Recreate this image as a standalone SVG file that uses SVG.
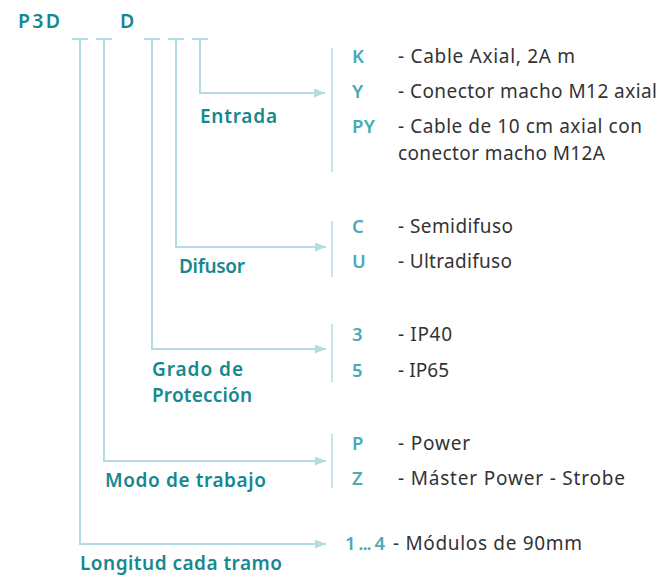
<svg xmlns="http://www.w3.org/2000/svg" width="663" height="578" viewBox="0 0 663 578">
<style>
.ln{fill:none;stroke:#b4dce3;stroke-width:2}
.bar{fill:none;stroke:#b4dce3;stroke-width:1.5}
.lbl{font-family:"Noto Sans","Open Sans",sans-serif;font-weight:600;font-size:19px;fill:#16888f}
.code{font-family:"Noto Sans","Open Sans",sans-serif;font-weight:600;font-size:18.5px;fill:#4aaab6}
.txt{font-family:"Noto Sans","Open Sans",sans-serif;font-size:19px;fill:#333333}
.hd{font-family:"Noto Sans","Open Sans",sans-serif;font-weight:600;font-size:19.5px;fill:#16888f}
</style>
<defs>
<marker id="ah" markerWidth="11" markerHeight="9" refX="11" refY="4.5" orient="auto" markerUnits="userSpaceOnUse">
<path d="M0,0 L11,4.5 L0,9 Z" fill="#b4dce3"/>
</marker>
</defs>
<g id="header">
<text class="hd" x="18" y="28" textLength="42">P3D</text>
<text class="hd" x="120" y="28">D</text>
</g>
<g id="connectors">
<path class="ln" d="M72,39 H88 M96,39 H112 M144,39 H160 M168,39 H184 M192,39 H208"/>
<path class="ln" d="M200,39 V93 H325" marker-end="url(#ah)"/>
<path class="ln" d="M176,39 V247 H326" marker-end="url(#ah)"/>
<path class="ln" d="M152,39 V349 H326" marker-end="url(#ah)"/>
<path class="ln" d="M104,39 V461 H326" marker-end="url(#ah)"/>
<path class="ln" d="M80,39 V544 H326" marker-end="url(#ah)"/>
<path class="bar" d="M332,48 V172 M332,221 V277 M332,324 V382 M332,434 V488"/>
</g>
<g id="entrada">
<text class="lbl" x="200" y="123" textLength="77">Entrada</text>
<text class="code" x="352" y="63">K</text>
<text class="txt" x="398" y="63" textLength="177">- Cable Axial, 2A m</text>
<text class="code" x="352" y="98">Y</text>
<text class="txt" x="398" y="98" textLength="259">- Conector macho M12 axial</text>
<text class="code" x="352" y="133" textLength="23">PY</text>
<text class="txt" x="398" y="133" textLength="244">- Cable de 10 cm axial con</text>
<text class="txt" x="398" y="160" textLength="207">conector macho M12A</text>
</g>
<g id="difusor">
<text class="lbl" x="179" y="273" textLength="66">Difusor</text>
<text class="code" x="352" y="233">C</text>
<text class="txt" x="398" y="233" textLength="115">- Semidifuso</text>
<text class="code" x="352" y="268">U</text>
<text class="txt" x="398" y="268" textLength="114">- Ultradifuso</text>
</g>
<g id="proteccion">
<text class="lbl" x="152" y="376" textLength="91">Grado de</text>
<text class="lbl" x="152" y="402" textLength="100">Protección</text>
<text class="code" x="352" y="341">3</text>
<text class="txt" x="398" y="341" textLength="54">- IP40</text>
<text class="code" x="352" y="377">5</text>
<text class="txt" x="398" y="377" textLength="51">- IP65</text>
</g>
<g id="modo">
<text class="lbl" x="105" y="487" textLength="161">Modo de trabajo</text>
<text class="code" x="352" y="450">P</text>
<text class="txt" x="398" y="450" textLength="72">- Power</text>
<text class="code" x="352" y="485">Z</text>
<text class="txt" x="398" y="485" textLength="227">- Máster Power - Strobe</text>
</g>
<g id="longitud">
<text class="lbl" x="80" y="570" textLength="202">Longitud cada tramo</text>
<text class="code" x="345" y="550" textLength="40">1 ... 4</text>
<text class="txt" x="393" y="550" textLength="189">- Módulos de 90mm</text>
</g>
</svg>
